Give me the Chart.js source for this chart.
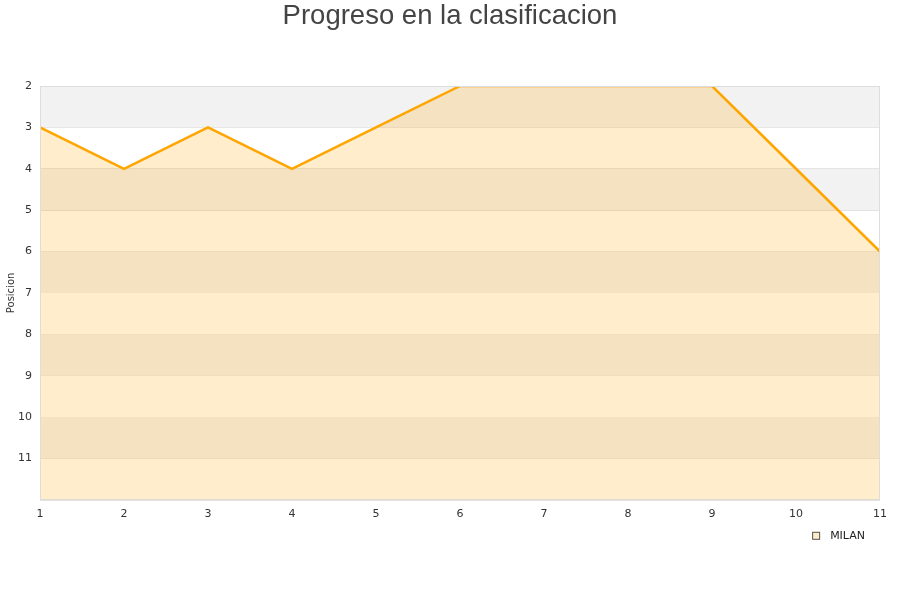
<!DOCTYPE html>
<html>
<head>
<meta charset="utf-8">
<script src="https://cdn.jsdelivr.net/npm/chart.js@4.4.1/dist/chart.umd.min.js"></script>
<style>
  html, body { margin: 0; padding: 0; background: #fff; }
  #wrap { width: 900px; height: 600px; }
</style>
</head>
<body>
<div id="wrap"><canvas id="chart" width="900" height="600"></canvas></div>
<script>
const jornadas = [1, 2, 3, 4, 5, 6, 7, 8, 9, 10, 11];
const posiciones = [3, 4, 3, 4, 3, 2, 2, 2, 2, 4, 6];
const equipo = 'MILAN';
const titulo = 'Progreso en la clasificacion';
const tituloY = 'Posicion';
const yMin = 2;
const yMax = 12;

// alternating grey bands, plot border, titles and legend
const decorPlugin = {
    id: 'decor',
    beforeDatasetsDraw(chart) {
        const { ctx, chartArea: a, scales: { y } } = chart;
        ctx.save();
        for (let v = yMin; v < yMax; v += 2) {
            const top = y.getPixelForValue(v);
            const bot = y.getPixelForValue(v + 1);
            ctx.fillStyle = '#f2f2f2';
            ctx.fillRect(a.left, top, a.right - a.left, bot - top);
        }
        ctx.restore();
    },
    afterDraw(chart) {
        const { ctx, chartArea: a, width } = chart;
        ctx.save();
        ctx.strokeStyle = '#dddddd';
        ctx.lineWidth = 1;
        ctx.strokeRect(a.left + 0.5, a.top + 0.5, a.right - a.left - 1, a.bottom - a.top);

        // title
        ctx.fillStyle = '#444';
        ctx.font = '27.5px "Liberation Sans", Arial, sans-serif';
        ctx.textAlign = 'center';
        ctx.textBaseline = 'alphabetic';
        ctx.fillText(titulo, width / 2, 24);

        // y axis title
        ctx.save();
        ctx.translate(11, (a.top + a.bottom) / 2);
        ctx.rotate(-Math.PI / 2);
        ctx.fillStyle = '#333';
        ctx.font = '10px "DejaVu Sans", sans-serif';
        ctx.textAlign = 'center';
        ctx.textBaseline = 'middle';
        ctx.fillText(tituloY, 0, 0);
        ctx.restore();

        // legend
        ctx.font = '11px "DejaVu Sans", sans-serif';
        ctx.textAlign = 'right';
        ctx.textBaseline = 'middle';
        const ly = a.bottom + 36;
        const textRight = a.right - 15;
        const tw = ctx.measureText(equipo).width;
        ctx.fillStyle = '#222';
        ctx.fillText(equipo, textRight, ly);
        const bx = textRight - tw - 18;
        ctx.fillStyle = '#ffebc8';
        ctx.fillRect(bx, ly - 4, 8, 8);
        ctx.strokeStyle = '#555';
        ctx.strokeRect(bx + 0.5, ly - 3.5, 7, 7);
        ctx.restore();
    }
};

const ctx = document.getElementById('chart').getContext('2d');
new Chart(ctx, {
    type: 'line',
    data: {
        datasets: [{
            label: equipo,
            data: jornadas.map((j, i) => ({ x: j, y: posiciones[i] })),
            borderColor: '#ffa500',
            backgroundColor: 'rgba(255,165,0,0.2)',
            borderWidth: 2.5,
            pointRadius: 0,
            tension: 0,
            fill: { value: yMax }
        }]
    },
    options: {
        responsive: false,
        animation: false,
        layout: { padding: { left: 10, right: 20, top: 86, bottom: 71 } },
        plugins: {
            title: { display: false },
            legend: { display: false },
            tooltip: { enabled: false }
        },
        scales: {
            x: {
                type: 'linear',
                min: 1,
                max: 11,
                ticks: { stepSize: 1, color: '#333', font: { family: 'DejaVu Sans', size: 11 }, padding: 8 },
                grid: { display: false, drawTicks: false },
                border: { display: false }
            },
            y: {
                reverse: true,
                min: yMin,
                max: yMax,
                ticks: {
                    stepSize: 1,
                    color: '#333',
                    font: { family: 'DejaVu Sans', size: 11 },
                    padding: 8,
                    callback: v => v === yMax ? '' : v
                },
                grid: { color: '#e0e0e0', drawTicks: false },
                border: { display: false }
            }
        }
    },
    plugins: [decorPlugin]
});
</script>
</body>
</html>
